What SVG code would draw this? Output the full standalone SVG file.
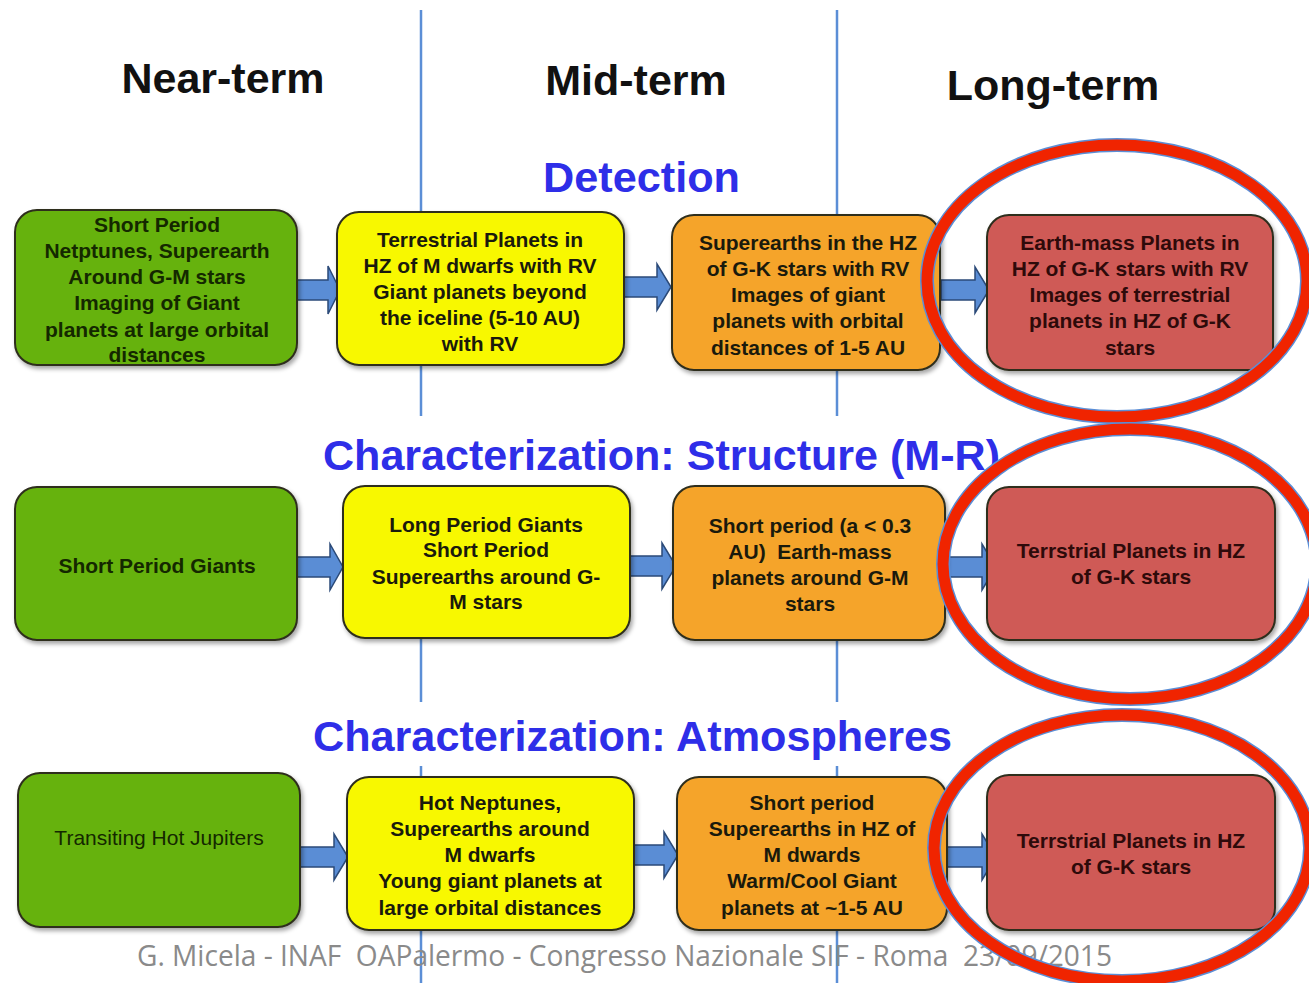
<svg xmlns="http://www.w3.org/2000/svg" width="1309" height="983" viewBox="0 0 1309 983">
<style>
.box{stroke:#2e2e1e;stroke-width:2;filter:url(#sh)}
.g{fill:#66b20c}.y{fill:#f8f800}.o{fill:#f5a42c}.r{fill:#cf5a56}
.t{font-family:"Liberation Sans",Arial,sans-serif;font-weight:bold;font-size:21px;text-anchor:middle;fill:#1a1a0c}
.tr{fill:#2e0a0a}
.tg{fill:#142800}
.hd{font-family:"Liberation Sans",Arial,sans-serif;font-weight:bold;font-size:43px;text-anchor:middle;fill:#111}
.sec{font-family:"Liberation Sans",Arial,sans-serif;font-weight:bold;font-size:42px;fill:#2e2ee8}
.arr{fill:#5a8dd5;stroke:#2b4a78;stroke-width:1.5}
.vl{stroke:#5b8ed6;stroke-width:2.5}
.ring{fill:none;stroke:#5b8ed6;stroke-width:14}
.ringr{fill:none;stroke:#f02400;stroke-width:11}
</style>
<defs>
<filter id="sh" x="-10%" y="-10%" width="125%" height="130%">
<feDropShadow dx="2" dy="3" stdDeviation="2" flood-color="#000" flood-opacity="0.35"/>
</filter>
</defs>
<rect width="1309" height="983" fill="#fff"/>
<g id="dividers">
<line class="vl" x1="421" y1="10" x2="421" y2="983"/>
<line class="vl" x1="837" y1="10" x2="837" y2="983"/>
</g>
<g id="headers">
<text class="hd" x="223" y="93">Near-term</text>
<text class="hd" x="636" y="95">Mid-term</text>
<text class="hd" x="1053" y="100">Long-term</text>
</g>
<g id="sections">
<text class="sec" x="543" y="192" textLength="197" lengthAdjust="spacingAndGlyphs">Detection</text>
<rect x="318" y="416" width="688" height="70" fill="#fff"/>
<text class="sec" x="323" y="470" textLength="677" lengthAdjust="spacingAndGlyphs">Characterization: Structure (M-R)</text>
<rect x="308" y="702" width="650" height="64" fill="#fff"/>
<text class="sec" x="313" y="751" textLength="639" lengthAdjust="spacingAndGlyphs">Characterization: Atmospheres</text>
</g>
<g id="connectors">
<polygon class="arr" points="297,280 328,280 328,266 340,290 328,314 328,300 297,300"/>
<polygon class="arr" points="624,277 657,277 657,264 671,287 657,310 657,297 624,297"/>
<polygon class="arr" points="941,280 975,280 975,267 989,290 975,313 975,300 941,300"/>
<polygon class="arr" points="297,557 330,557 330,544 343,567 330,590 330,577 297,577"/>
<polygon class="arr" points="630,556 662,556 662,543 676,566 662,589 662,576 630,576"/>
<polygon class="arr" points="945,557 982,557 982,544 996,567 982,590 982,577 945,577"/>
<polygon class="arr" points="300,847 334,847 334,834 348,857 334,880 334,867 300,867"/>
<polygon class="arr" points="634,845 664,845 664,832 678,855 664,878 664,865 634,865"/>
<polygon class="arr" points="947,847 982,847 982,834 996,857 982,880 982,867 947,867"/>
</g>
<g id="n1">
<rect class="box g" x="15" y="210" width="282" height="155" rx="22"/>
<text class="t tg" x="157" y="232">Short Period<tspan x="157" y="258">Netptunes, Superearth</tspan><tspan x="157" y="284">Around G-M stars</tspan><tspan x="157" y="310">Imaging of Giant</tspan><tspan x="157" y="337">planets at large orbital</tspan><tspan x="157" y="362">distances</tspan></text>
</g>
<g id="n2">
<rect class="box y" x="337" y="212" width="287" height="153" rx="22"/>
<text class="t" x="480" y="247">Terrestrial Planets in<tspan x="480" y="273">HZ of M dwarfs with RV</tspan><tspan x="480" y="299">Giant planets beyond</tspan><tspan x="480" y="325">the iceline (5-10 AU)</tspan><tspan x="480" y="351">with RV</tspan></text>
</g>
<g id="n3">
<rect class="box o" x="672" y="215" width="268" height="155" rx="22"/>
<text class="t" x="808" y="250">Superearths in the HZ<tspan x="808" y="276">of G-K stars with RV</tspan><tspan x="808" y="302">Images of giant</tspan><tspan x="808" y="328">planets with orbital</tspan><tspan x="808" y="355">distances of 1-5 AU</tspan></text>
</g>
<g id="n4">
<rect class="box r" x="987" y="215" width="286" height="155" rx="22"/>
<text class="t tr" x="1130" y="250">Earth-mass Planets in<tspan x="1130" y="276">HZ of G-K stars with RV</tspan><tspan x="1130" y="302">Images of terrestrial</tspan><tspan x="1130" y="328">planets in HZ of G-K</tspan><tspan x="1130" y="355">stars</tspan></text>
</g>
<g id="n5">
<rect class="box g" x="15" y="487" width="282" height="153" rx="22"/>
<text class="t tg" x="157" y="573">Short Period Giants</text>
</g>
<g id="n6">
<rect class="box y" x="343" y="486" width="287" height="152" rx="22"/>
<text class="t" x="486" y="532">Long Period Giants<tspan x="486" y="557">Short Period</tspan><tspan x="486" y="584">Superearths around G-</tspan><tspan x="486" y="609">M stars</tspan></text>
</g>
<g id="n7">
<rect class="box o" x="673" y="486" width="272" height="154" rx="22"/>
<text class="t" x="810" y="533" xml:space="preserve">Short period (a &lt; 0.3<tspan x="810" y="559">AU)  Earth-mass</tspan><tspan x="810" y="585">planets around G-M</tspan><tspan x="810" y="611">stars</tspan></text>
</g>
<g id="n8">
<rect class="box r" x="987" y="487" width="288" height="153" rx="22"/>
<text class="t tr" x="1131" y="558">Terrstrial Planets in HZ<tspan x="1131" y="584">of G-K stars</tspan></text>
</g>
<g id="n9">
<rect class="box g" x="18" y="773" width="282" height="154" rx="22"/>
<text class="t tg" x="159" y="845" style="font-weight:normal">Transiting Hot Jupiters</text>
</g>
<g id="n10">
<rect class="box y" x="347" y="777" width="287" height="153" rx="22"/>
<text class="t" x="490" y="810">Hot Neptunes,<tspan x="490" y="836">Superearths around</tspan><tspan x="490" y="862">M dwarfs</tspan><tspan x="490" y="888">Young giant planets at</tspan><tspan x="490" y="915">large orbital distances</tspan></text>
</g>
<g id="n11">
<rect class="box o" x="677" y="777" width="270" height="153" rx="22"/>
<text class="t" x="812" y="810">Short period<tspan x="812" y="836">Superearths in HZ of</tspan><tspan x="812" y="862">M dwards</tspan><tspan x="812" y="888">Warm/Cool Giant</tspan><tspan x="812" y="915">planets at ~1-5 AU</tspan></text>
</g>
<g id="n12">
<rect class="box r" x="987" y="775" width="288" height="155" rx="22"/>
<text class="t tr" x="1131" y="848">Terrstrial Planets in HZ<tspan x="1131" y="874">of G-K stars</tspan></text>
</g>
<g id="footer">
<text x="137" y="966" xml:space="preserve" font-family="'Open Sans','Liberation Sans',sans-serif" font-size="29" fill="#8a8a8a" textLength="975" lengthAdjust="spacingAndGlyphs">G. Micela - INAF  OAPalermo - Congresso Nazionale SIF - Roma  23/09/2015</text>
</g>
<g id="highlights">
<ellipse class="ring" cx="1117" cy="281" rx="190" ry="136"/>
<ellipse class="ringr" cx="1117" cy="281" rx="190" ry="136"/>
<ellipse class="ring" cx="1130" cy="564" rx="187" ry="135"/>
<ellipse class="ringr" cx="1130" cy="564" rx="187" ry="135"/>
<ellipse class="ring" cx="1122" cy="848" rx="188" ry="133"/>
<ellipse class="ringr" cx="1122" cy="848" rx="188" ry="133"/>
</g>
</svg>
